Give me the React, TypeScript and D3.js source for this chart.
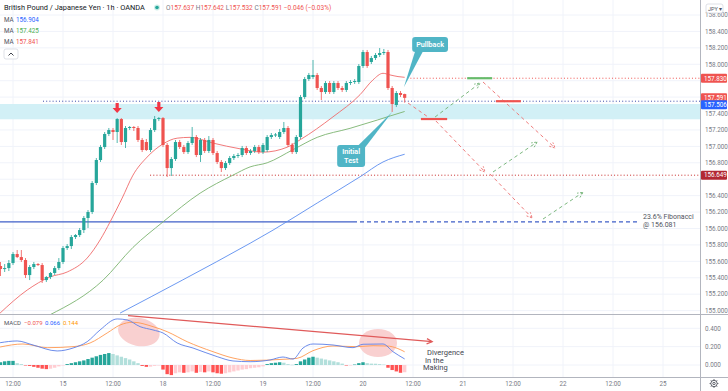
import React from "react";
import * as d3 from "d3";

const W = 728;
const H = 391;
const AXIS_X = 700;
const PRICE_BOTTOM = 314;
const MACD_TOP = 315;
const MACD_BOTTOM = 377;

// hourly bars, first one sits at index -15 (15th 00:00 is index 0)
const firstBar = -15;
// [open, high, low, close]
const ohlc = [
  [155.543, 155.592, 155.421, 155.506], [155.506, 155.567, 155.47, 155.518], [155.518, 155.616, 155.482, 155.579],
  [155.579, 155.713, 155.555, 155.689], [155.689, 155.738, 155.64, 155.652], [155.652, 155.738, 155.592, 155.616],
  [155.616, 155.64, 155.397, 155.433], [155.433, 155.555, 155.372, 155.531], [155.531, 155.592, 155.506, 155.567],
  [155.567, 155.579, 155.543, 155.555], [155.555, 155.579, 155.336, 155.372], [155.372, 155.421, 155.348, 155.409],
  [155.409, 155.47, 155.384, 155.458], [155.458, 155.543, 155.433, 155.518], [155.518, 155.64, 155.494, 155.592],
  [155.592, 155.786, 155.567, 155.762], [155.762, 155.811, 155.738, 155.786], [155.786, 155.92, 155.75, 155.896],
  [155.896, 155.932, 155.872, 155.92], [155.92, 156.006, 155.896, 155.981], [155.981, 156.152, 155.945, 156.128],
  [156.128, 156.225, 156.006, 156.201], [156.201, 156.578, 156.176, 156.554], [156.554, 156.858, 156.529, 156.834],
  [156.834, 157.017, 156.81, 156.992], [156.992, 157.175, 156.968, 157.151], [157.151, 157.224, 157.126, 157.199],
  [157.199, 157.224, 157.078, 157.175], [157.175, 157.345, 157.041, 157.333], [157.333, 157.345, 157.017, 157.053],
  [157.053, 157.248, 156.98, 157.224], [157.224, 157.248, 157.199, 157.236], [157.236, 157.248, 157.187, 157.224],
  [157.224, 157.248, 157.053, 157.078], [157.078, 157.102, 156.931, 156.956], [157.053, 157.09, 156.944, 156.956],
  [156.956, 157.224, 156.931, 157.199], [157.199, 157.37, 157.175, 157.333], [157.333, 157.357, 157.308, 157.345],
  [157.345, 157.357, 156.992, 157.017], [157.017, 157.041, 156.627, 156.736], [156.736, 156.87, 156.639, 156.846],
  [156.846, 157.078, 156.822, 157.053], [157.053, 157.078, 156.968, 156.992], [156.992, 157.017, 156.907, 156.931],
  [156.931, 157.065, 156.907, 157.041], [157.041, 157.236, 157.017, 157.114], [157.114, 157.138, 156.87, 156.895],
  [156.895, 157.102, 156.81, 157.078], [157.078, 157.102, 156.919, 156.944], [156.944, 157.126, 156.919, 157.078],
  [157.078, 157.102, 156.895, 156.919], [156.919, 156.944, 156.785, 156.81], [156.81, 156.834, 156.688, 156.736],
  [156.736, 156.822, 156.712, 156.797], [156.797, 156.883, 156.773, 156.858], [156.858, 156.907, 156.834, 156.883],
  [156.883, 156.919, 156.858, 156.895], [156.895, 157.005, 156.87, 156.98], [156.98, 157.005, 156.895, 156.919],
  [156.919, 156.968, 156.895, 156.944], [156.944, 157.017, 156.919, 156.992], [156.992, 157.017, 156.907, 156.931],
  [156.931, 157.041, 156.907, 157.017], [156.956, 157.138, 156.931, 157.114], [157.114, 157.163, 157.09, 157.138],
  [157.138, 157.163, 157.114, 157.145], [157.114, 157.212, 157.09, 157.175], [157.175, 157.297, 157.151, 157.224],
  [157.224, 157.248, 156.992, 157.017], [157.017, 157.041, 156.907, 156.931], [156.931, 157.138, 156.907, 157.114],
  [157.114, 157.626, 157.09, 157.601], [157.601, 157.845, 157.577, 157.82], [157.82, 157.894, 157.796, 157.869],
  [157.845, 158.052, 157.82, 157.869], [157.869, 157.894, 157.687, 157.711], [157.711, 157.735, 157.565, 157.662],
  [157.662, 157.796, 157.638, 157.772], [157.772, 157.796, 157.638, 157.662], [157.662, 157.796, 157.638, 157.772],
  [157.772, 157.796, 157.687, 157.711], [157.711, 157.735, 157.662, 157.687], [157.687, 157.796, 157.662, 157.772],
  [157.772, 157.808, 157.747, 157.784], [157.784, 157.82, 157.76, 157.796], [157.784, 158.003, 157.76, 157.979],
  [157.979, 158.174, 157.955, 158.149], [158.149, 158.174, 157.955, 157.979], [158.028, 158.101, 158.003, 158.076],
  [158.076, 158.137, 158.052, 158.113], [158.113, 158.198, 158.088, 158.137], [158.137, 158.186, 158.113, 158.149],
  [158.149, 158.174, 157.687, 157.711], [157.711, 157.735, 157.419, 157.516], [157.504, 157.674, 157.479, 157.65],
  [157.65, 157.674, 157.601, 157.626], [157.637, 157.642, 157.532, 157.591],
];

// moving averages as [bar index, price]
const maRed = [
  [-15.1, 154.97], [-8.6, 155.25], [-3.1, 155.41], [1, 155.47], [5.8, 155.64], [8.9, 155.86], [11.3, 156.08],
  [14.2, 156.37], [16.8, 156.65], [20.2, 156.87], [24, 157.03], [27.4, 157.1], [30.5, 157.11], [36, 157.04],
  [42.5, 156.97], [48, 156.93], [53.8, 156.99], [56.9, 157.08], [64.8, 157.36], [71.3, 157.63], [74.4, 157.81],
  [76.8, 157.89], [78.5, 157.87], [80.4, 157.85], [82, 157.841],
];
const maGreen = [
  [-3.1, 154.95], [9.6, 155.37], [16.8, 155.77], [24, 156.08], [32.9, 156.43], [40.8, 156.65], [44.9, 156.75],
  [49, 156.8], [55.2, 156.96], [61, 157.11], [68.9, 157.22], [75.4, 157.32], [78.5, 157.37], [82, 157.425],
];
const maBlue = [
  [13.7, 154.97], [28.6, 155.37], [44.9, 155.82], [50.4, 155.98], [61, 156.31], [71.3, 156.63], [76.8, 156.81],
  [82, 156.904],
];

// MACD pane, read as [bar index, value]
const macdLine = [
  [-15.1, 0.243], [-11, 0.262], [-7.2, 0.218], [-1.4, 0.153], [2.4, 0.185], [5.8, 0.254], [8.9, 0.382],
  [13, 0.502], [15.4, 0.491], [18.5, 0.418], [21.6, 0.382], [24, 0.349], [27.4, 0.24], [31.2, 0.185],
  [37, 0.091], [40.8, 0.044], [44.9, 0.036], [49.7, 0.055], [52.8, 0.087], [55.2, 0.065], [57.6, 0.185],
  [60, 0.229], [64.8, 0.218], [69.6, 0.189], [72, 0.226], [76.8, 0.229], [79.2, 0.145], [82, 0.066],
];
const signalLine = [
  [-15.1, 0.196], [-9.6, 0.229], [-3.8, 0.189], [2.4, 0.2], [6.5, 0.24], [10.6, 0.349], [13.7, 0.436],
  [16.8, 0.466], [21.6, 0.418], [25, 0.363], [29.8, 0.254], [36, 0.145], [40.8, 0.076], [44.9, 0.049],
  [52.8, 0.062], [56.2, 0.073], [60, 0.156], [64.8, 0.207], [70.6, 0.2], [74.4, 0.21], [77.8, 0.207],
  [80.2, 0.182], [82, 0.144],
];
const histogram = [
  0.03, 0.04, 0.045, 0.045, 0.02, 0.01, -0.005, -0.01, -0.02, -0.03, -0.04, -0.045, -0.04, -0.03, -0.015,
  -0.005, 0.01, 0.02, 0.03, 0.04, 0.05, 0.065, 0.08, 0.095, 0.11, 0.12, 0.13, 0.12, 0.105, 0.09, 0.075,
  0.06, 0.04, 0.02, -0.01, -0.02, -0.018, -0.01, -0.005, -0.05, -0.1, -0.11, -0.09, -0.08, -0.085, -0.08,
  -0.07, -0.085, -0.075, -0.08, -0.07, -0.08, -0.09, -0.095, -0.09, -0.08, -0.07, -0.06, -0.05, -0.045,
  -0.035, -0.03, -0.025, -0.015, 0.01, 0.02, 0.025, 0.03, 0.025, 0.01, 0.003, 0.01, 0.04, 0.06, 0.08, 0.09,
  0.08, 0.07, 0.06, 0.05, 0.04, 0.03, 0.015, -0.005, -0.004, 0.005, 0.02, 0.03, 0.02, 0.015, 0.014, 0.01,
  0.005, -0.03, -0.055, -0.07, -0.085, -0.079,
];

const timeTickIdx = [-12, 0, 12, 24, 36, 48, 60, 72, 84, 96, 108, 120, 132, 144];
const timeTickLabels = ["12:00", "15", "12:00", "18", "12:00", "19", "12:00", "20", "12:00", "21", "12:00", "22", "12:00", "25"];
const priceTicks = [155.0, 155.2, 155.4, 155.6, 155.8, 156.0, 156.2, 156.4, 156.6, 156.8, 157.0, 157.2, 157.4, 157.6, 157.8, 158.0, 158.2, 158.4, 158.6];
const macdTicks = [0, 0.2, 0.4];

// price badges on the right scale
const badges = [
  { price: 157.83, fill: "#ef5350" },
  { price: 157.591, fill: "#ef5350" },
  { price: 157.506, fill: "#2962ff" },
  { price: 156.649, fill: "#b22833" },
];

// drawings
const zone = [157.33, 157.516];
const resistanceDots = { price: 157.55, from: -4.8 };
const upperDots = { price: 157.83, from: 82.6 };
const lowerDots = { price: 156.649, from: 20.9 };
const fib = { price: 156.081, solidTo: 69.6, dashTo: 138 };
const topMarkers = [13, 23];
const targetBars = [
  { price: 157.333, from: 85.9, to: 92.2, color: "#ef5350" },
  { price: 157.83, from: 97, to: 103, color: "#66bb6a" },
  { price: 157.55, from: 103.9, to: 109.9, color: "#ef5350" },
];
const pathArrows = [
  { a: [82.8, 157.528], b: [87.6, 157.358], color: "#ef7d7d", head: false },
  { a: [89.3, 157.358], b: [100.1, 157.772], color: "#7cb87f", head: true },
  { a: [100.8, 157.784], b: [118.1, 156.98], color: "#ef7d7d", head: true },
  { a: [89.5, 157.309], b: [101.3, 156.688], color: "#ef7d7d", head: true },
  { a: [103.2, 156.688], b: [113.8, 157.053], color: "#7cb87f", head: true },
  { a: [102.5, 156.664], b: [112.6, 156.128], color: "#ef7d7d", head: true },
  { a: [115.2, 156.115], b: [124.8, 156.44], color: "#7cb87f", head: true },
];
const divergenceLine = { a: [15.6, 0.538], b: [88.6, 0.254] };
const macdBlobs = [
  { c: [18.2, 0.36], rx: 21, ry: 14, rot: 12 },
  { c: [75.6, 0.24], rx: 19, ry: 14, rot: 0 },
];

const x = d3.scaleLinear().domain([-12, 144]).range([13, 663]);
const y = d3.scaleLinear().domain([155, 158.6]).range([310.6, 15]);
const ym = d3.scaleLinear().domain([0, 0.4]).range([365, 328.3]);

const GREEN = "#26a69a";
const RED = "#ef5350";
const FONT = "Roboto, 'Open Sans', sans-serif";

function arrowHead(x1: number, y1: number, x2: number, y2: number, len = 6) {
  const ang = Math.atan2(y2 - y1, x2 - x1);
  const p1 = [x2 - len * Math.cos(ang - 0.45), y2 - len * Math.sin(ang - 0.45)];
  const p2 = [x2 - len * Math.cos(ang + 0.45), y2 - len * Math.sin(ang + 0.45)];
  return `M${p1[0]},${p1[1]}L${x2},${y2}L${p2[0]},${p2[1]}`;
}

export default function App() {
  const priceLine = d3.line<number[]>().x((d) => x(d[0])).y((d) => y(d[1])).curve(d3.curveMonotoneX);
  const macdPath = d3.line<number[]>().x((d) => x(d[0])).y((d) => ym(d[1])).curve(d3.curveMonotoneX);

  const pbTip = [x(81.8), y(157.72)];
  const itTip = [x(79), y(157.419)];
  const hiddenTick = (p: number) => badges.some((b) => Math.abs(y(b.price) - y(p)) < 8);

  return (
    <svg width={W} height={H} style={{ position: "absolute", left: 0, top: 0, background: "#fff" }} fontFamily={FONT}>
      <defs>
        <clipPath id="pricePane"><rect x={0} y={0} width={AXIS_X} height={PRICE_BOTTOM} /></clipPath>
        <clipPath id="macdPane"><rect x={0} y={MACD_TOP} width={AXIS_X} height={MACD_BOTTOM - MACD_TOP} /></clipPath>
      </defs>
      <rect width={W} height={H} fill="#fff" />

      {/* grid */}
      {timeTickIdx.map((t) => (
        <line key={"vg" + t} x1={x(t)} x2={x(t)} y1={0} y2={MACD_BOTTOM} stroke="#f0f3fa" />
      ))}
      {priceTicks.map((p) => (
        <line key={"hg" + p} x1={0} x2={AXIS_X} y1={y(p)} y2={y(p)} stroke="#f0f3fa" />
      ))}
      {macdTicks.map((v) => (
        <line key={"mg" + v} x1={0} x2={AXIS_X} y1={ym(v)} y2={ym(v)} stroke="#f0f3fa" />
      ))}

      <g clipPath="url(#pricePane)">
        <rect x={0} y={y(zone[1])} width={AXIS_X} height={y(zone[0]) - y(zone[1])} fill="#d2f0f6" />
        <line x1={x(resistanceDots.from)} x2={AXIS_X} y1={y(resistanceDots.price)} y2={y(resistanceDots.price)}
          stroke="#3949ab" strokeDasharray="1 2.2" strokeWidth={1} />
        <line x1={x(upperDots.from)} x2={AXIS_X} y1={y(upperDots.price)} y2={y(upperDots.price)}
          stroke="#ef5350" strokeDasharray="1 2.2" strokeWidth={1} />
        <line x1={x(lowerDots.from)} x2={AXIS_X} y1={y(lowerDots.price)} y2={y(lowerDots.price)}
          stroke="#c62828" strokeDasharray="1 2.2" strokeWidth={1} />
        <line x1={0} x2={x(fib.solidTo)} y1={y(fib.price)} y2={y(fib.price)} stroke="#3f5fc8" strokeWidth={1.2} />
        <line x1={x(fib.solidTo)} x2={x(fib.dashTo)} y1={y(fib.price)} y2={y(fib.price)} stroke="#3f5fc8"
          strokeWidth={1.1} strokeDasharray="4 3" />

        <path d={priceLine(maBlue) || ""} fill="none" stroke="#5b8def" strokeWidth={0.9} />
        <path d={priceLine(maGreen) || ""} fill="none" stroke="#7cb36f" strokeWidth={0.9} />
        <path d={priceLine(maRed) || ""} fill="none" stroke="#ef6b6b" strokeWidth={0.9} />

        {ohlc.map((d, k) => {
          const cx = x(firstBar + k);
          const up = d[3] >= d[0];
          const col = up ? GREEN : RED;
          const top = y(Math.max(d[0], d[3]));
          const bot = y(Math.min(d[0], d[3]));
          return (
            <g key={"c" + k}>
              <line x1={cx} x2={cx} y1={y(d[1])} y2={y(d[2])} stroke={col} strokeWidth={0.8} />
              <rect x={cx - 1.6} y={top} width={3.2} height={Math.max(1, bot - top)} fill={col} />
            </g>
          );
        })}

        {topMarkers.map((i) => {
          const cx = x(i);
          const tip = y(ohlc[i - firstBar][1]) - 5;
          return (
            <path key={"m" + i} fill="#f23645"
              d={`M${cx - 1.6},${tip - 10}h3.2v5h3l-4.6,5l-4.6,-5h3z`} />
          );
        })}

        {pathArrows.map((a, k) => {
          const x1 = x(a.a[0]), y1 = y(a.a[1]), x2 = x(a.b[0]), y2 = y(a.b[1]);
          return (
            <g key={"pa" + k} stroke={a.color} fill="none" strokeWidth={1}>
              <line x1={x1} y1={y1} x2={x2} y2={y2} strokeDasharray="3.5 3" />
              {a.head && <path d={arrowHead(x1, y1, x2, y2)} strokeDasharray="2 1.5" />}
            </g>
          );
        })}
        {targetBars.map((b, k) => (
          <line key={"tb" + k} x1={x(b.from)} x2={x(b.to)} y1={y(b.price)} y2={y(b.price)} stroke={b.color} strokeWidth={2.2} />
        ))}

        {/* callouts */}
        <path d={`M${x(84.5)},${y(158.16)}L${pbTip[0]},${pbTip[1]}L${x(86.4)},${y(158.16)}Z`} fill="#50b5c6" />
        <rect x={x(83.8)} y={y(158.332)} width={x(92.4) - x(83.8)} height={y(158.149) - y(158.332)} rx={3} fill="#50b5c6" />
        <text x={(x(83.8) + x(92.4)) / 2} y={y(158.24) + 2.5} textAnchor="middle" fontSize={7.2} fill="#fff" fontWeight={600}>Pullback</text>

        <path d={`M${x(70.6)},${y(157.0)}L${itTip[0]},${itTip[1]}L${x(72.4)},${y(156.98)}Z`} fill="#50b5c6" />
        <rect x={x(65.8)} y={y(157.017)} width={x(72.5) - x(65.8)} height={y(156.749) - y(157.017)} rx={3} fill="#50b5c6" />
        <text x={(x(65.8) + x(72.5)) / 2} y={y(157.017) + 9} textAnchor="middle" fontSize={7.2} fill="#fff" fontWeight={600}>Initial</text>
        <text x={(x(65.8) + x(72.5)) / 2} y={y(157.017) + 18} textAnchor="middle" fontSize={7.2} fill="#fff" fontWeight={600}>Test</text>
      </g>

      <text x={x(fib.dashTo) + 5} y={y(fib.price) - 2.5} fontSize={7} fill="#50535e">23.6% Fibonacci</text>
      <text x={x(fib.dashTo) + 5} y={y(fib.price) + 5.5} fontSize={7} fill="#50535e">@ 156.081</text>

      {/* MACD pane */}
      <g clipPath="url(#macdPane)">
        {macdBlobs.map((b, k) => (
          <ellipse key={"bl" + k} cx={x(b.c[0])} cy={ym(b.c[1])} rx={b.rx} ry={b.ry}
            transform={`rotate(${b.rot} ${x(b.c[0])} ${ym(b.c[1])})`} fill="#f9d0d0" />
        ))}
        {histogram.map((v, k) => {
          const prev = k > 0 ? histogram[k - 1] : v;
          const rising = v >= prev;
          const col = v >= 0 ? (rising ? GREEN : "#b2dfdb") : (rising ? "#ffcdd2" : "#ff5252");
          const cx = x(firstBar + k);
          return (
            <rect key={"h" + k} x={cx - 1.7} width={3.4} y={Math.min(ym(v), ym(0))}
              height={Math.max(0.5, Math.abs(ym(v) - ym(0)))} fill={col} />
          );
        })}
        <path d={macdPath(signalLine) || ""} fill="none" stroke="#ff9850" strokeWidth={0.9} />
        <path d={macdPath(macdLine) || ""} fill="none" stroke="#5b7fe8" strokeWidth={0.9} />
      </g>
      <g stroke="#e05a5a" strokeWidth={1.2} fill="none">
        <line x1={x(divergenceLine.a[0])} y1={ym(divergenceLine.a[1])} x2={x(divergenceLine.b[0])} y2={ym(divergenceLine.b[1])} />
        <path d={arrowHead(x(divergenceLine.a[0]), ym(divergenceLine.a[1]), x(divergenceLine.b[0]), ym(divergenceLine.b[1]), 6)} />
      </g>
      <g fontSize={7.5} fill="#434651">
        <text x={427} y={355}>Divergence</text>
        <text x={425} y={362.5}>In the</text>
        <text x={423} y={370}>Making</text>
      </g>
      <g fontSize={6}>
        <text x={4} y={325} fill="#50535e">MACD</text>
        <text x={24} y={325} fill="#ef5350">−0.079</text>
        <text x={45} y={325} fill="#2962ff">0.066</text>
        <text x={63} y={325} fill="#ff9800">0.144</text>
      </g>

      {/* frame */}
      <line x1={0} x2={W} y1={PRICE_BOTTOM + 0.5} y2={PRICE_BOTTOM + 0.5} stroke="#b2b5be" />
      <line x1={0} x2={W} y1={MACD_BOTTOM + 0.5} y2={MACD_BOTTOM + 0.5} stroke="#b2b5be" />
      <line x1={AXIS_X + 0.5} x2={AXIS_X + 0.5} y1={0} y2={H} stroke="#b2b5be" />

      {/* axes labels */}
      {priceTicks.filter((p) => !hiddenTick(p)).map((p) => (
        <text key={"pt" + p} x={AXIS_X + 5} y={y(p) + 2.3} fontSize={6.3} fill="#787b86">{p.toFixed(3)}</text>
      ))}
      {macdTicks.map((v) => (
        <text key={"mt" + v} x={AXIS_X + 5} y={ym(v) + 2.3} fontSize={6.3} fill="#787b86">{v.toFixed(3)}</text>
      ))}
      {timeTickIdx.map((t, k) => (
        <text key={"tt" + k} x={x(t)} y={386} fontSize={6.3} fill="#787b86" textAnchor="middle">{timeTickLabels[k]}</text>
      ))}
      {badges.map((b) => (
        <g key={"b" + b.price}>
          <rect x={AXIS_X + 1} y={y(b.price) - 4.5} width={26} height={9} fill={b.fill} rx={1} />
          <text x={AXIS_X + 4} y={y(b.price) + 2.3} fontSize={6.3} fill="#fff">{b.price.toFixed(3)}</text>
        </g>
      ))}

      <rect x={706} y={4} width={17} height={9} rx={2} fill="#fff" stroke="#d1d4dc" strokeWidth={0.7} />
      <text x={708} y={10.6} fontSize={5.5} fill="#50535e">JPY ▾</text>

      <g transform="translate(714,383.5)" stroke="#50535e" strokeWidth={0.9} fill="none">
        <circle r={3.2} />
        <circle r={1.2} />
        {d3.range(8).map((k) => (
          <line key={"g" + k} x1={3.2 * Math.cos((k * Math.PI) / 4)} y1={3.2 * Math.sin((k * Math.PI) / 4)}
            x2={4.4 * Math.cos((k * Math.PI) / 4)} y2={4.4 * Math.sin((k * Math.PI) / 4)} />
        ))}
      </g>

      {/* legend */}
      <text x={4} y={10} fontSize={7.4} fill="#131722">British Pound / Japanese Yen · 1h · OANDA</text>
      <circle cx={157} cy={7.5} r={3} fill="#cdeee9" />
      <circle cx={157} cy={7.5} r={1.8} fill={GREEN} />
      <text x={166} y={10} fontSize={6.5} fill="#ef5350">
        <tspan fill="#787b86">O</tspan>157.637 <tspan fill="#787b86">H</tspan>157.642 <tspan fill="#787b86">L</tspan>157.532 <tspan fill="#787b86">C</tspan>157.591 −0.046 (−0.03%)
      </text>
      <g fontSize={6.3}>
        <text x={4} y={22} fill="#50535e">MA</text><text x={16} y={22} fill="#2962ff">156.904</text>
        <text x={4} y={33} fill="#50535e">MA</text><text x={16} y={33} fill="#4caf50">157.425</text>
        <text x={4} y={44} fill="#50535e">MA</text><text x={16} y={44} fill="#ef5350">157.841</text>
      </g>
      <rect x={4} y={49} width={14} height={10} rx={2} fill="#fff" stroke="#d1d4dc" strokeWidth={0.7} />
      <path d="M8.5,55.5L11,53L13.5,55.5" stroke="#131722" strokeWidth={0.8} fill="none" />
    </svg>
  );
}
